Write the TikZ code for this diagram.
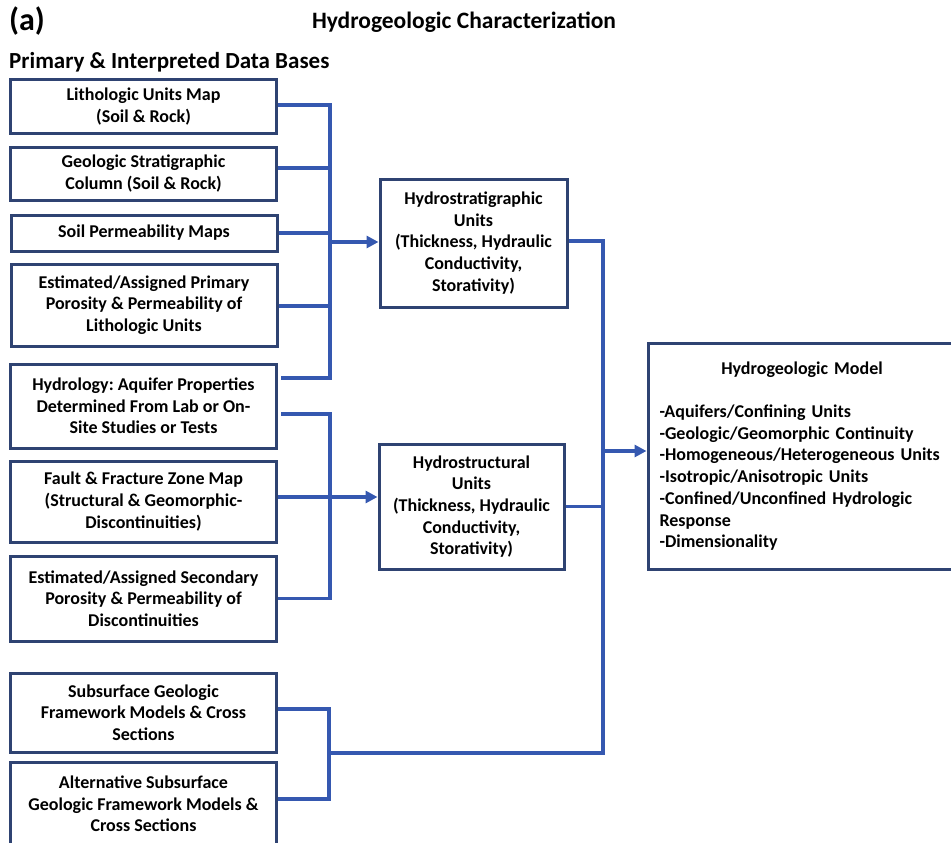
\documentclass[tikz,border=0pt]{standalone}
\usepackage{fontspec}
\setmainfont{Carlito}
\usetikzlibrary{arrows.meta}
\definecolor{boxline}{HTML}{2F4372}
\definecolor{wire}{HTML}{3558B0}
\frenchspacing

\begin{document}
\begin{tikzpicture}[x=1pt,y=-1pt,
  boxtext/.style={font=\bfseries\fontsize{18}{21.7}\selectfont},
  srcbox/.style={boxtext,draw=boxline,line width=3pt,minimum width=266pt,
    inner sep=0pt,align=center},
  unitbox/.style={boxtext,draw=boxline,line width=3pt,inner sep=0pt,align=center},
  wireline/.style={draw=wire,line width=3.4pt},
  feed/.style={wireline,-{Triangle[length=12pt,width=12pt]}},
  heading/.style={font=\bfseries\fontsize{23.5}{27}\selectfont,inner sep=0pt}]
\useasboundingbox (0,0) rectangle (951,843);
\clip (0,0) rectangle (951,843);

% headings
\node[font=\bfseries\fontsize{32}{36}\selectfont,inner sep=0pt,anchor=west] (lbl) at (9,21) {(a)};
\node[heading] (ttl) at (464,22) {Hydrogeologic Characterization};
\node[heading,anchor=west,font=\bfseries\fontsize{23}{27}\selectfont] (sub) at (9,62) {Primary \& Interpreted Data Bases};

% source data boxes
\node[srcbox,minimum height=53pt] (b1) at (143.5,106.5) {Lithologic Units Map\\(Soil \& Rock)};
\node[srcbox,minimum height=53pt] (b2) at (143.5,173.5) {Geologic Stratigraphic\\Column (Soil \& Rock)};
\node[srcbox,minimum height=36pt] (b3) at (144,233) {Soil Permeability Maps};
\node[srcbox,minimum height=82pt] (b4) at (144,305) {Estimated/Assigned Primary\\Porosity \& Permeability of\\Lithologic Units};
\node[srcbox,minimum height=84pt] (b5) at (143.5,406) {Hydrology: Aquifer Properties\\Determined From Lab or On-\\Site Studies or Tests};
\node[srcbox,minimum height=81pt] (b6) at (143.5,501.5) {Fault \& Fracture Zone Map\\(Structural \& Geomorphic-\\Discontinuities)};
\node[srcbox,minimum height=85pt] (b7) at (143.5,598.5) {Estimated/Assigned Secondary\\Porosity \& Permeability of\\Discontinuities};
\node[srcbox,minimum height=79pt] (b8) at (143.5,712.5) {Subsurface Geologic\\Framework Models \& Cross\\Sections};
\node[srcbox,minimum height=84pt] (b9) at (143.5,804) {Alternative Subsurface\\Geologic Framework Models \&\\Cross Sections};

% unit boxes
\node[unitbox,minimum width=187pt,minimum height=128pt] (hs) at (473.5,243) {Hydrostratigraphic\\Units\\(Thickness, Hydraulic\\Conductivity,\\Storativity)};
\node[unitbox,minimum width=185pt,minimum height=125pt] (hst) at (471.5,506.5) {Hydrostructural\\Units\\(Thickness, Hydraulic\\Conductivity,\\Storativity)};

% model box
\node[boxtext,draw=boxline,line width=3pt,minimum width=308pt,minimum height=226pt,
  inner sep=0pt,text width=285pt] (model) at (802,456)
  {\centering Hydrogeologic Model\par\vspace{21.7pt}\raggedright
   -Aquifers/Confining Units\\
   -Geologic/Geomorphic Continuity\\
   -Homogeneous/Heterogeneous Units\\
   -Isotropic/Anisotropic Units\\
   -Confined/Unconfined Hydrologic\\
   Response\\
   -Dimensionality\par};

% bus positions
\coordinate (busA) at (330,242);
\coordinate (busB) at (330,497);
\coordinate (busC) at (603,451);
\coordinate (busD) at (329,753);

% first collector: b1..b5 into hydrostratigraphic units
\draw[wireline] ([yshift=1.5pt]b1.east) -- ([yshift=1.5pt]b1.east -| busA)
  -- ([yshift=28pt]b5.east -| busA) -- ([yshift=28pt,xshift=3pt]b5.east);
\draw[wireline] ([yshift=5.5pt]b2.east) -- ([yshift=5.5pt]b2.east -| busA);
\draw[wireline] (b3.east) -- (b3.east -| busA);
\draw[wireline] ([yshift=-1pt]b4.east) -- ([yshift=-1pt]b4.east -| busA);
\draw[feed] (busA) -- (busA -| hs.west);

% second collector: b5..b7 into hydrostructural units
\draw[wireline] ([yshift=-8pt,xshift=3pt]b5.east) -- ([yshift=-8pt]b5.east -| busB)
  -- (b7.east -| busB) -- (b7.east);
\draw[wireline] ([yshift=4.5pt]b6.east) -- ([yshift=4.5pt]b6.east -| busB);
\draw[feed] (busB) -- (busB -| hst.west);

% framework models collector
\draw[wireline] ([yshift=3.5pt]b8.east) -- ([yshift=3.5pt]b8.east -| busD)
  -- ([yshift=5pt]b9.east -| busD) -- ([yshift=5pt]b9.east);

% main collector into the hydrogeologic model
\draw[wireline] ([yshift=2pt]hs.east) -- ([yshift=2pt]hs.east -| busC)
  -- (busD -| busC) -- (busD);
\draw[wireline] (hst.east) -- (hst.east -| busC);
\draw[feed] (busC) -- (busC -| model.west);
\end{tikzpicture}
\end{document}
